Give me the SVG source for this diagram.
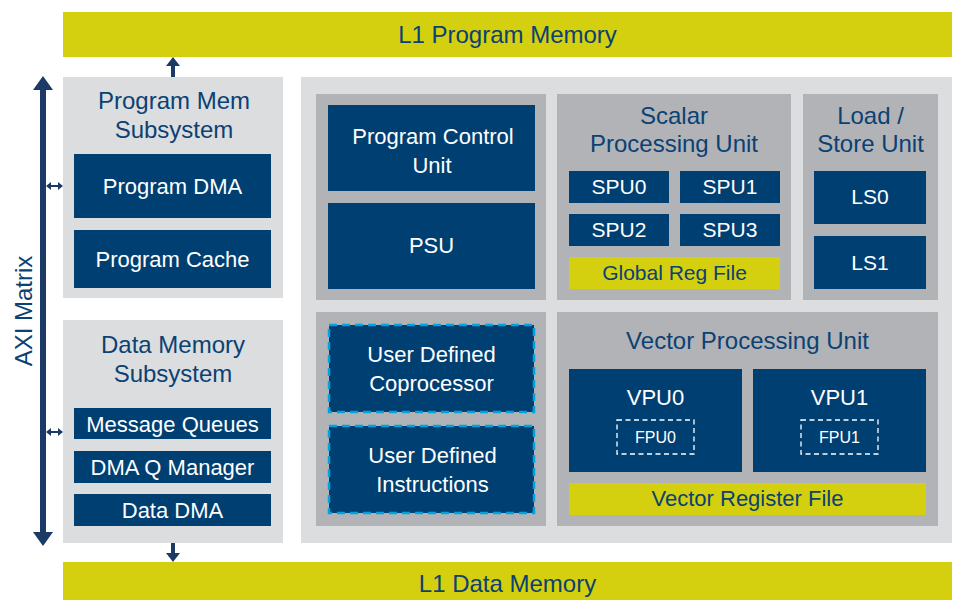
<svg xmlns="http://www.w3.org/2000/svg" width="956" height="600" viewBox="0 0 956 600">
<defs>
<style>
.bar{fill:#D4D00F}
.lg{fill:#DCDDDF}
.dg{fill:#B1B3B6}
.blk{fill:#003F72}
.dash{fill:#003F72;stroke:#00A3E0;stroke-width:2.5;stroke-dasharray:8 5}
.fpu{fill:none;stroke:#FFFFFF;stroke-width:1.3;stroke-dasharray:5 3.5}
text{font-family:"Liberation Sans",Arial,sans-serif;text-anchor:middle}
.t{fill:#0B4173;font-size:24px}
.w{fill:#FFFFFF;font-size:22px}
.u{fill:#FFFFFF;font-size:21px}
.b{fill:#0B4173;font-size:21px}
.s{fill:#FFFFFF;font-size:16px}
.arr{stroke:#1B3A66;fill:none}
.ah{fill:#1B3A66}
</style>
</defs>
<rect width="956" height="600" fill="#FFFFFF"/>

<g id="l1-program-memory"><rect class="bar" x="63" y="12" width="889" height="45"/><text class="t" x="507.5" y="43">L1 Program Memory</text></g>
<g id="l1-data-memory"><rect class="bar" x="63" y="562" width="889" height="38"/><text class="t" x="507.5" y="592">L1 Data Memory</text></g>

<g id="program-mem-subsystem">
<rect class="lg" x="63" y="77" width="220" height="221"/>
<text class="t" x="174" y="109">Program Mem</text><text class="t" x="174" y="138">Subsystem</text>
</g>
<g id="program-dma"><rect class="blk" x="74" y="154" width="197" height="64"/><text class="w" x="172.5" y="194">Program DMA</text></g>
<g id="program-cache"><rect class="blk" x="74" y="230" width="197" height="58"/><text class="w" x="172.5" y="267">Program Cache</text></g>

<g id="data-memory-subsystem">
<rect class="lg" x="63" y="320" width="220" height="223"/>
<text class="t" x="173" y="353">Data Memory</text><text class="t" x="173" y="382">Subsystem</text>
</g>
<g id="message-queues"><rect class="blk" x="74" y="408" width="197" height="31"/><text class="w" x="172.5" y="432">Message Queues</text></g>
<g id="dma-q-manager"><rect class="blk" x="74" y="451" width="197" height="32"/><text class="w" x="172.5" y="475">DMA Q Manager</text></g>
<g id="data-dma"><rect class="blk" x="74" y="494" width="197" height="32"/><text class="w" x="172.5" y="518">Data DMA</text></g>

<g id="core"><rect class="lg" x="301" y="77" width="651" height="466"/></g>

<g id="program-control-panel"><rect class="dg" x="316" y="94" width="230" height="206"/></g>
<g id="program-control-unit"><rect class="blk" x="328" y="105" width="207" height="86"/><text class="w" x="433" y="144">Program Control</text><text class="w" x="432" y="173">Unit</text></g>
<g id="psu"><rect class="blk" x="328" y="203" width="207" height="86"/><text class="w" x="431.5" y="253">PSU</text></g>

<g id="user-panel"><rect class="dg" x="316" y="312" width="230" height="214"/></g>
<g id="user-defined-coprocessor"><rect class="dash" x="329" y="325" width="205" height="87"/><text class="w" x="431.5" y="362">User Defined</text><text class="w" x="431.5" y="391">Coprocessor</text></g>
<g id="user-defined-instructions"><rect class="dash" x="329" y="426" width="205" height="87"/><text class="w" x="432.5" y="463">User Defined</text><text class="w" x="432.5" y="492">Instructions</text></g>

<g id="scalar-processing-unit">
<rect class="dg" x="557" y="94" width="234" height="206"/>
<text class="t" x="674" y="124">Scalar</text><text class="t" x="674" y="152">Processing Unit</text>
</g>
<g id="spu0"><rect class="blk" x="569" y="171" width="100" height="32"/><text class="u" x="619" y="194">SPU0</text></g>
<g id="spu1"><rect class="blk" x="680" y="171" width="100" height="32"/><text class="u" x="730" y="194">SPU1</text></g>
<g id="spu2"><rect class="blk" x="569" y="214" width="100" height="32"/><text class="u" x="619" y="237">SPU2</text></g>
<g id="spu3"><rect class="blk" x="680" y="214" width="100" height="32"/><text class="u" x="730" y="237">SPU3</text></g>
<g id="global-reg-file"><rect class="bar" x="569" y="257" width="211" height="32"/><text class="b" x="674.5" y="280">Global Reg File</text></g>

<g id="load-store-unit">
<rect class="dg" x="803" y="94" width="135" height="206"/>
<text class="t" x="870.5" y="124">Load /</text><text class="t" x="870.5" y="152">Store Unit</text>
</g>
<g id="ls0"><rect class="blk" x="814" y="171" width="112" height="53"/><text class="u" x="870" y="204">LS0</text></g>
<g id="ls1"><rect class="blk" x="814" y="236" width="112" height="53"/><text class="u" x="870" y="270">LS1</text></g>

<g id="vector-processing-unit">
<rect class="dg" x="557" y="312" width="381" height="214"/>
<text class="t" x="747.5" y="349">Vector Processing Unit</text>
</g>
<g id="vpu0"><rect class="blk" x="569" y="369" width="173" height="103"/><text class="w" x="655.5" y="405">VPU0</text>
<rect class="fpu" x="617" y="420" width="77" height="34"/><text class="s" x="655.5" y="443">FPU0</text></g>
<g id="vpu1"><rect class="blk" x="753" y="369" width="173" height="103"/><text class="w" x="839.5" y="405">VPU1</text>
<rect class="fpu" x="801" y="420" width="77" height="34"/><text class="s" x="839.5" y="443">FPU1</text></g>
<g id="vector-register-file"><rect class="bar" x="569" y="483" width="357" height="32"/><text class="b" x="747.5" y="506" style="font-size:22px">Vector Register File</text></g>

<g id="axi-matrix"><text class="t" transform="translate(32 311) rotate(-90)" x="0" y="0">AXI Matrix</text></g>

<g id="connectors">
<line class="arr" x1="43" y1="86" x2="43" y2="535" stroke-width="6"/>
<polygon class="ah" points="43,76 33,90 53,90"/>
<polygon class="ah" points="43,546 33,532 53,532"/>
<line class="arr" x1="50" y1="186" x2="58" y2="186" stroke-width="2"/>
<polygon class="ah" points="46,186 51,182 51,190"/>
<polygon class="ah" points="63,186 58,182 58,190"/>
<line class="arr" x1="50" y1="432" x2="58" y2="432" stroke-width="2"/>
<polygon class="ah" points="46,432 51,428 51,436"/>
<polygon class="ah" points="63,432 58,428 58,436"/>
<line class="arr" x1="173" y1="77" x2="173" y2="64" stroke-width="4"/>
<polygon class="ah" points="173,57 166,66 180,66"/>
<line class="arr" x1="173" y1="543" x2="173" y2="555" stroke-width="4"/>
<polygon class="ah" points="173,562 166,553 180,553"/>
</g>
</svg>
